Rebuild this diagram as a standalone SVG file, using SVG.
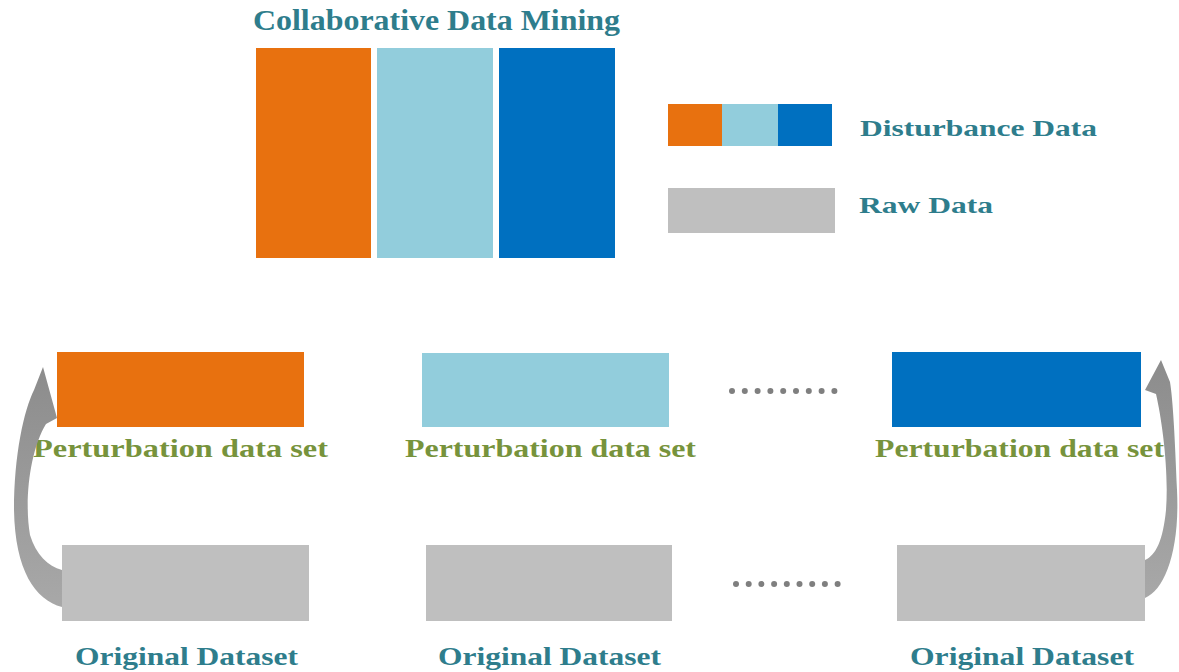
<svg xmlns="http://www.w3.org/2000/svg" width="1179" height="672" viewBox="0 0 1179 672">
  <style>
    .t { font-family: "Liberation Serif", "Times New Roman", serif; font-weight: bold; }
    .teal { fill: #2E7D8C; }
    .green { fill: #77933C; }
    .orange { fill: #E8710F; }
    .light { fill: #92CDDC; }
    .blue { fill: #0070C0; }
    .gray { fill: #BFBFBF; }
    .dot { fill: #7F7F7F; }
  </style>
  <defs>
    <linearGradient id="arrowGrad" x1="0" y1="0" x2="0" y2="1">
      <stop offset="0" stop-color="#8C8C8C"/>
      <stop offset="0.5" stop-color="#9A9A9A"/>
      <stop offset="1" stop-color="#A8A8A8"/>
    </linearGradient>
  </defs>
  <rect width="1179" height="672" fill="#FFFFFF"/>

  <g id="title">
    <text class="t teal" x="253" y="30" font-size="29" textLength="367" lengthAdjust="spacingAndGlyphs">Collaborative Data Mining</text>
  </g>

  <g id="collab-bars">
    <rect class="orange" x="256" y="48" width="115" height="210"/>
    <rect class="light" x="377" y="48" width="116" height="210"/>
    <rect class="blue" x="499" y="48" width="116" height="210"/>
  </g>

  <g id="legend-disturbance">
    <rect class="orange" x="668" y="104" width="54" height="42"/>
    <rect class="light" x="722" y="104" width="56" height="42"/>
    <rect class="blue" x="778" y="104" width="54" height="42"/>
    <text class="t teal" x="860" y="136" font-size="23" textLength="237" lengthAdjust="spacingAndGlyphs">Disturbance Data</text>
  </g>

  <g id="legend-raw">
    <rect class="gray" x="668" y="188" width="167" height="45"/>
    <text class="t teal" x="859" y="213" font-size="23" textLength="134" lengthAdjust="spacingAndGlyphs">Raw Data</text>
  </g>

  <g id="perturbation-1">
    <rect class="orange" x="57" y="352" width="247" height="75"/>
    <text class="t green" x="33" y="457" font-size="26" textLength="295" lengthAdjust="spacingAndGlyphs">Perturbation data set</text>
  </g>
  <g id="perturbation-2">
    <rect class="light" x="422" y="353" width="247" height="74"/>
    <text class="t green" x="405" y="457" font-size="26" textLength="291" lengthAdjust="spacingAndGlyphs">Perturbation data set</text>
  </g>
  <g id="perturbation-3">
    <rect class="blue" x="892" y="352" width="249" height="75"/>
    <text class="t green" x="875" y="457" font-size="26" textLength="289" lengthAdjust="spacingAndGlyphs">Perturbation data set</text>
  </g>

  <g id="original-1">
    <rect class="gray" x="62" y="545" width="247" height="76"/>
    <text class="t teal" x="75" y="665" font-size="26" textLength="223" lengthAdjust="spacingAndGlyphs">Original Dataset</text>
  </g>
  <g id="original-2">
    <rect class="gray" x="426" y="545" width="246" height="76"/>
    <text class="t teal" x="438" y="665" font-size="26" textLength="223" lengthAdjust="spacingAndGlyphs">Original Dataset</text>
  </g>
  <g id="original-3">
    <rect class="gray" x="897" y="545" width="248" height="76"/>
    <text class="t teal" x="910" y="665" font-size="26" textLength="224" lengthAdjust="spacingAndGlyphs">Original Dataset</text>
  </g>

  <g id="ellipsis-top">
    <circle class="dot" cx="732" cy="391" r="3"/>
    <circle class="dot" cx="744.8" cy="391" r="3"/>
    <circle class="dot" cx="757.6" cy="391" r="3"/>
    <circle class="dot" cx="770.4" cy="391" r="3"/>
    <circle class="dot" cx="783.2" cy="391" r="3"/>
    <circle class="dot" cx="796" cy="391" r="3"/>
    <circle class="dot" cx="808.8" cy="391" r="3"/>
    <circle class="dot" cx="821.6" cy="391" r="3"/>
    <circle class="dot" cx="834.4" cy="391" r="3"/>
  </g>
  <g id="ellipsis-bottom">
    <circle class="dot" cx="736" cy="584" r="3"/>
    <circle class="dot" cx="748.7" cy="584" r="3"/>
    <circle class="dot" cx="761.4" cy="584" r="3"/>
    <circle class="dot" cx="774.1" cy="584" r="3"/>
    <circle class="dot" cx="786.8" cy="584" r="3"/>
    <circle class="dot" cx="799.5" cy="584" r="3"/>
    <circle class="dot" cx="812.2" cy="584" r="3"/>
    <circle class="dot" cx="824.9" cy="584" r="3"/>
    <circle class="dot" cx="837.6" cy="584" r="3"/>
  </g>

  <g id="connectors">
    <path fill="url(#arrowGrad)" d="M 62 607 C 35 600, 15 570, 14 510 C 14 455, 24 410, 34 390 L 43 367 L 57 418 L 46 424 C 30 450, 24 500, 30 535 C 36 555, 48 566, 62 570 Z"/>
    <path fill="url(#arrowGrad)" d="M 1145 598 C 1165 590, 1180 550, 1177 490 C 1175 440, 1173 400, 1170 382 L 1161 360 L 1145 390 L 1156 394 C 1162 420, 1169 470, 1166 510 C 1163 540, 1156 555, 1145 560 Z"/>
  </g>
</svg>
